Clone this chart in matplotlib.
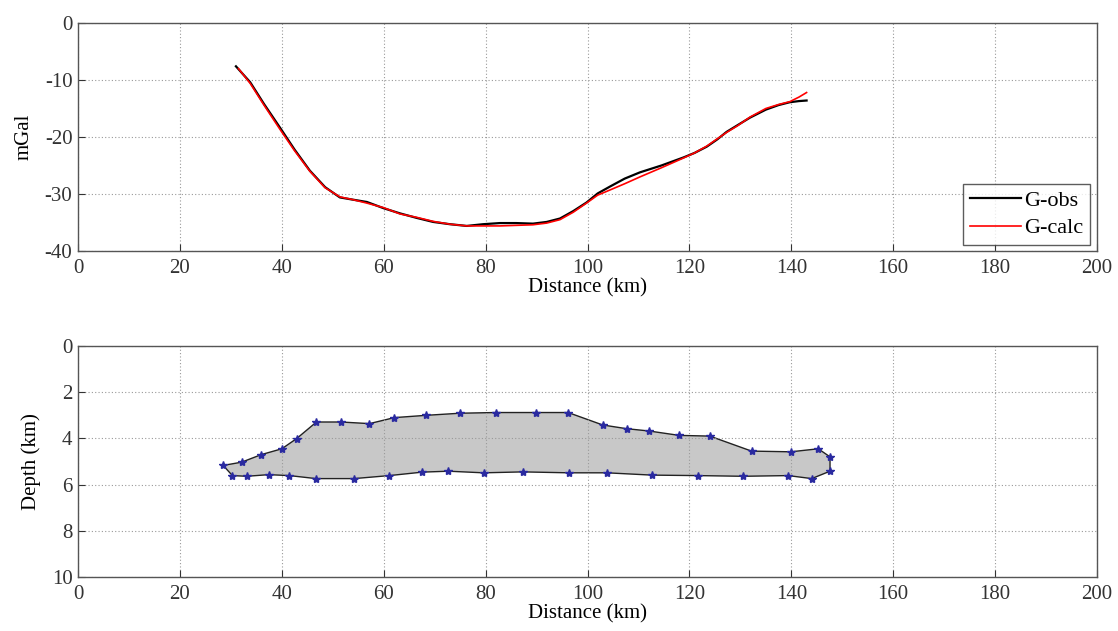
import matplotlib
matplotlib.use("Agg")
import matplotlib.pyplot as plt
from matplotlib.patches import Polygon

plt.rcParams['font.family'] = ['Liberation Serif', 'DejaVu Serif']
plt.rcParams['axes.unicode_minus'] = False

# --- Gravity profile data ---
obs_x = [31.0, 33.8, 36.5, 39.6, 42.5, 45.5, 48.5, 51.4, 54.0, 56.7, 60.0, 63.2, 66.5, 69.7, 73.0,
         76.3, 79.5, 82.8, 86.0, 89.3, 92.0, 94.6, 97.2, 99.8, 102.0, 104.4, 107.3, 110.3, 114.5,
         118.8, 121.0, 123.4, 125.5, 127.3, 129.5, 131.9, 135.0, 137.5, 139.7, 141.5, 143.0]
obs_y = [-7.6, -10.4, -14.2, -18.3, -22.2, -25.9, -28.8, -30.6, -31.0, -31.4, -32.5, -33.4, -34.2,
         -34.9, -35.3, -35.6, -35.3, -35.1, -35.1, -35.2, -34.9, -34.3, -33.0, -31.5, -29.9, -28.7,
         -27.3, -26.2, -25.0, -23.6, -22.8, -21.7, -20.4, -19.1, -17.9, -16.6, -15.2, -14.4, -13.9,
         -13.7, -13.6]
calc_x = [31.5, 33.8, 36.5, 39.6, 42.5, 45.5, 48.5, 51.4, 54.0, 56.7, 60.0, 63.2, 66.5, 69.7, 73.0,
          76.3, 79.5, 82.8, 86.0, 89.3, 92.0, 94.6, 97.2, 99.8, 102.0, 104.4, 107.3, 110.3, 114.5,
          118.8, 121.0, 123.4, 125.5, 127.3, 129.5, 131.9, 135.0, 137.5, 139.7, 141.5, 143.0]
calc_y = [-8.0, -10.6, -14.4, -18.6, -22.4, -26.0, -28.9, -30.5, -31.0, -31.6, -32.4, -33.5, -34.1,
          -34.8, -35.3, -35.6, -35.6, -35.6, -35.5, -35.4, -35.1, -34.5, -33.2, -31.6, -30.2, -29.3,
          -28.2, -27.0, -25.4, -23.7, -22.8, -21.6, -20.3, -19.2, -18.0, -16.5, -15.0, -14.3, -13.8,
          -13.0, -12.2]

# --- Body polygon (distance km, depth km) ---
poly_x = [28.5, 32.1, 36.0, 40.0, 42.9, 46.8, 51.6, 57.2, 62.1, 68.4, 75.0, 82.0, 89.9, 96.2,
          103.0, 107.7, 112.1, 118.0, 124.0, 132.2, 139.9, 145.3, 147.6, 147.6,
          144.0, 139.4, 130.5, 121.6, 112.7, 103.8, 96.4, 87.3, 79.6, 72.7, 67.6, 61.1, 54.2,
          46.7, 41.5, 37.4, 33.1, 30.3]
poly_d = [5.17, 5.03, 4.70, 4.45, 4.01, 3.29, 3.29, 3.36, 3.10, 3.00, 2.91, 2.88, 2.88, 2.88,
          3.42, 3.58, 3.68, 3.87, 3.90, 4.55, 4.58, 4.45, 4.80, 5.42,
          5.74, 5.61, 5.64, 5.61, 5.59, 5.49, 5.49, 5.45, 5.49, 5.42, 5.46, 5.61, 5.74,
          5.74, 5.61, 5.57, 5.64, 5.61]

x_ticks = [0, 20, 40, 60, 80, 100, 120, 140, 160, 180, 200]
g_ticks = [0, -10, -20, -30, -40]
d_ticks = [0, 2, 4, 6, 8, 10]

W, H = 1118, 631
fig = plt.figure(figsize=(W / 100, H / 100), dpi=100)

def style(ax):
    ax.grid(True, linestyle=(0, (1, 2)), color='#999999', linewidth=0.8)
    ax.tick_params(direction='in', labelsize=15, length=5, width=0.8, colors='#333333')
    ax.tick_params(axis='x', pad=6)
    ax.tick_params(axis='y', pad=4)
    for s in ax.spines.values():
        s.set_color('#555555')
        s.set_linewidth(1.0)

ax1 = fig.add_axes([78 / W, 1 - 251 / H, (1097 - 78) / W, (251 - 23) / H])
ax1.plot(obs_x, obs_y, color='black', linewidth=1.6, label='G-obs')
ax1.plot(calc_x, calc_y, color='red', linewidth=1.2, label='G-calc')
ax1.set_xlim(0, 200)
ax1.set_ylim(-40, 0)
ax1.set_xticks(x_ticks)
ax1.set_yticks(g_ticks)
style(ax1)
ax1.set_xlabel('Distance (km)', fontsize=15, labelpad=0)
ax1.set_ylabel('mGal', fontsize=15, labelpad=8)
leg = ax1.legend(loc='lower right', fontsize=16, frameon=True, fancybox=False,
                 edgecolor='#333333', handlelength=2.3, handletextpad=0.15,
                 borderpad=0.3, labelspacing=0.3, borderaxespad=0,
                 bbox_to_anchor=(0.993, 0.026))
leg.get_frame().set_linewidth(1.0)

ax2 = fig.add_axes([78 / W, 1 - 577 / H, (1097 - 78) / W, (577 - 346) / H])
ax2.add_patch(Polygon(list(zip(poly_x, poly_d)), closed=True, facecolor='#c8c8c8',
                      edgecolor='#222222', linewidth=1.0))
ax2.plot(poly_x, poly_d, linestyle='none', marker='*', markersize=6, color='#2a2aa0')
ax2.set_xlim(0, 200)
ax2.set_ylim(10, 0)
ax2.set_xticks(x_ticks)
ax2.set_yticks(d_ticks)
style(ax2)
ax2.set_xlabel('Distance (km)', fontsize=15, labelpad=0)
ax2.set_ylabel('Depth (km)', fontsize=15, labelpad=8)

fig.savefig('out.png', dpi=100)
